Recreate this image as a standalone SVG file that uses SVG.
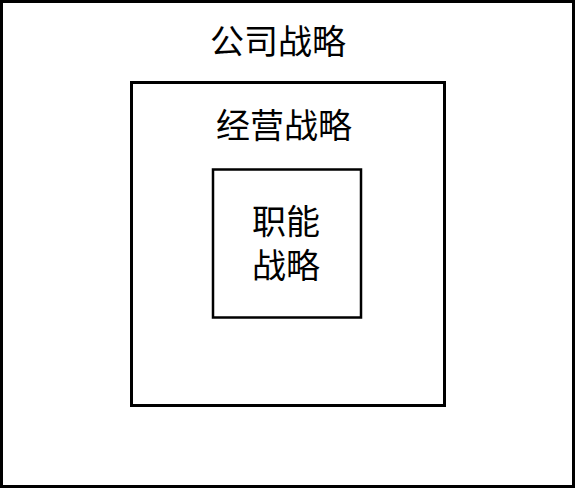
<svg xmlns="http://www.w3.org/2000/svg" width="575" height="488" viewBox="0 0 575 488">
<style>
.box{fill:#fff;stroke:#000;stroke-width:3}
.t{font-family:"Noto Sans CJK SC","Noto Sans CJK JP",sans-serif;font-size:34px;fill:#000;text-anchor:middle}
</style>
<rect width="575" height="488" fill="#fff"/>
<g id="corporate">
<rect class="box" x="1.5" y="1.5" width="572" height="485"/>
<text class="t" x="278" y="54">公司战略</text>
</g>
<g id="business">
<rect class="box" x="131.5" y="82.5" width="313" height="323"/>
<text class="t" x="284" y="138">经营战略</text>
</g>
<g id="functional">
<rect class="box" x="213" y="169.5" width="148" height="148" style="stroke-width:2.5"/>
<text class="t" x="286" y="234">职能<tspan x="286" dy="44">战略</tspan></text>
</g>
<g id="connectors"></g>
</svg>
